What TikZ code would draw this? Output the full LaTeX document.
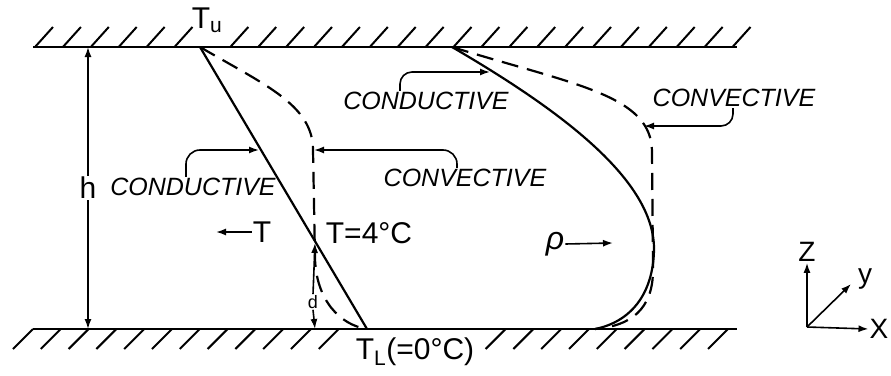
\documentclass[tikz,border=0pt]{standalone}
\usepackage{fontspec}
\setmainfont{Liberation Sans}
\usetikzlibrary{arrows.meta,positioning}
\tikzset{
  pared/.style={line width=2.6pt},
  rayado/.style={line width=2pt},
  perfil/.style={line width=2.2pt},
  discont/.style={line width=2.2pt, dash pattern=on 17pt off 9pt},
  flecha/.style={-{Latex[length=10pt,width=7pt]}, line width=1.6pt},
  etiq/.style={font=\fontsize{25}{28}\selectfont\itshape, inner sep=1pt},
  texto/.style={font=\fontsize{30}{32}\selectfont, inner sep=1pt}
}
\begin{document}
\begin{tikzpicture}[x=1pt,y=-1pt]
\useasboundingbox (0,0) rectangle (891,375);

% paredes
\draw[pared] (33,47) -- (737,47);
\draw[pared] (33,329) -- (737,329);
\foreach \i in {0,...,5}
  \draw[rayado] (35+27.9*\i,47) -- ++(18,-20);
\foreach \i in {7,...,25}
  \draw[rayado] (35+27.9*\i,47) -- ++(18,-20);
\foreach \i in {0,...,11}
  \draw[rayado] (33+27.8*\i,329) -- ++(-20,20);
\foreach \i in {17,...,25}
  \draw[rayado] (33+27.8*\i,329) -- ++(-20,20);

\coordinate (Tu) at (200,47);
\coordinate (TL) at (367,329);
\coordinate (Ru) at (452,47);
\coordinate (RL) at (595,329);

% perfil de temperatura
\draw[perfil] (Tu) -- (TL);
\draw[discont] (Tu) .. controls (265,85) and (313,105) .. (313,150)
  -- (315,258) .. controls (316,300) and (340,325) .. (TL);

% perfil de densidad
\draw[perfil] (Ru) .. controls (560,110) and (655,180) .. (654,250)
  .. controls (653,295) and (630,322) .. (RL);
\draw[discont] (Ru) .. controls (575,85) and (652,95) .. (652,152)
  -- (653,270) .. controls (653,310) and (630,326) .. (RL);

\node[texto] (tu) at (207,20) {T\textsubscript{u}};
\node[texto] (tl) at (415,352) {T\textsubscript{L}(=0°C)};
\node[texto] (t4) at (369,233) {T=4°C};
\node[texto] (tizq) at (262,232) {T};
\node[texto] (h) at (88,188) {h};
\node[texto, font=\fontsize{32}{34}\selectfont\itshape] (rho) at (555,244) {ρ};
\node[font=\fontsize{18}{20}\selectfont, inner sep=1pt] (d) at (313,302) {d};

\node[etiq] (condL) at (193,187) {CONDUCTIVE};
\node[etiq] (convM) at (465,178) {CONVECTIVE};
\node[etiq] (condR) at (426,101) {CONDUCTIVE};
\node[etiq] (convR) at (734,98) {CONVECTIVE};

\coordinate (aL) at (259,150);
\coordinate (aM) at (314,150);
\coordinate (aR) at (490,72);
\coordinate (aC) at (644,126);
\draw[flecha, rounded corners=14pt] ([xshift=-7pt]condL.north) |- (aL);
\draw[flecha, rounded corners=14pt] ([xshift=-8pt]convM.north) |- (aM);
\draw[flecha, rounded corners=12pt] ([xshift=-26pt]condR.north) |- (aR);
\draw[flecha, rounded corners=12pt] ([xshift=-1pt]convR.south) |- (aC);

% altura h
\coordinate (hT) at (88,47);
\coordinate (hB) at (88,329);
\draw[flecha] (h.north) -- (hT);
\draw[flecha] (h.south) -- (hB);

% espesor d
\coordinate (dT) at (315,243);
\coordinate (dB) at (315,329);
\draw[flecha] (d.north) -- (dT);
\draw[flecha] (d.south) -- (dB);

\coordinate (tA) at (216,232);
\draw[flecha] (tizq.west) -- (tA);
\coordinate (rA) at (613,243);
\draw[flecha] (rho.east) -- (rA);

% ejes
\coordinate (O) at (807,327);
\node[texto, font=\fontsize{28}{30}\selectfont] (ejeZ) at (807,252) {Z};
\node[texto, font=\fontsize{28}{30}\selectfont] (ejeX) at (879,329) {X};
\node[texto, font=\fontsize{28}{30}\selectfont] (ejeY) at (865,279) {y};
\draw[flecha] (O) -- (ejeZ.south);
\draw[flecha] (O) -- (ejeX.west);
\draw[flecha] (O) -- (851,284);
\end{tikzpicture}
\end{document}
